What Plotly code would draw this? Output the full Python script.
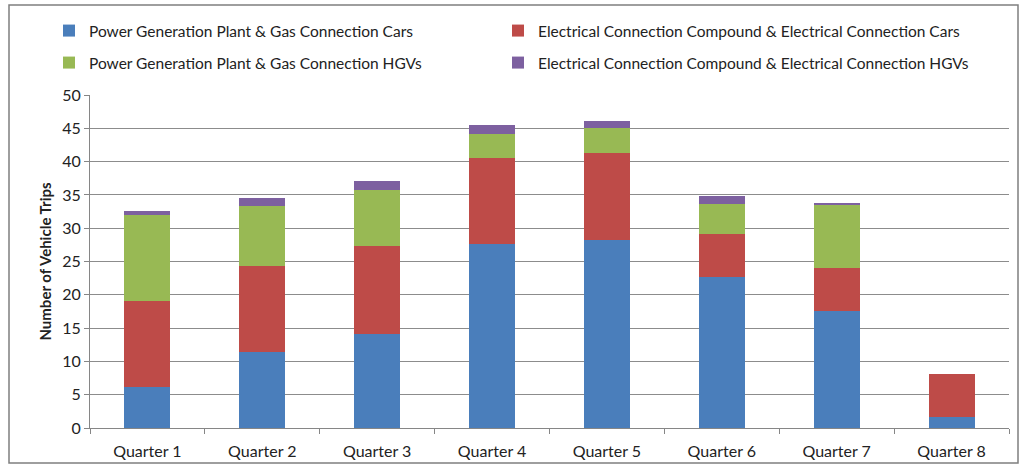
import plotly.graph_objects as go

quarters = ["Quarter 1", "Quarter 2", "Quarter 3", "Quarter 4",
            "Quarter 5", "Quarter 6", "Quarter 7", "Quarter 8"]

pg_cars = [6.1, 11.4, 14.1, 27.6, 28.3, 22.6, 17.5, 1.6]
ec_cars = [12.9, 13.0, 13.2, 13.0, 13.0, 6.6, 6.5, 6.5]
pg_hgvs = [13.0, 8.9, 8.4, 3.5, 3.7, 4.4, 9.5, 0.0]
ec_hgvs = [0.6, 1.2, 1.4, 1.4, 1.1, 1.2, 0.3, 0.0]

# (name, values, colour, legend id)
series = [
    ("Power Generation Plant & Gas Connection Cars", pg_cars, "#4a7ebb", "legend"),
    ("Electrical Connection Compound & Electrical Connection Cars", ec_cars, "#be4b48", "legend2"),
    ("Power Generation Plant & Gas Connection HGVs", pg_hgvs, "#98b954", "legend3"),
    ("Electrical Connection Compound & Electrical Connection HGVs", ec_hgvs, "#7d60a0", "legend4"),
]

W, H = 1023, 466
ML, MR, MT, MB = 90, W - 1009, 95, H - 428

fig = go.Figure()
for name, vals, col, leg in series:
    fig.add_trace(go.Bar(x=quarters, y=vals, name=name, legend=leg, showlegend=True,
                         marker=dict(color=col, line=dict(width=0)),
                         width=0.4))

font = "Lato, 'Open Sans', sans-serif"

def px_x(p):
    return (p - ML) / (W - ML - MR)

def px_y(p):
    return (H - MB - p) / (H - MT - MB)

def legend_at(xp, yp):
    # positioned in container coordinates so the legends never push the margins
    return dict(xref="container", yref="container",
                x=xp / W, y=1 - yp / H, xanchor="left", yanchor="middle",
                orientation="h", font=dict(size=15.5, color="#222222"),
                itemwidth=30, bgcolor="rgba(0,0,0,0)")

fig.update_layout(
    width=W, height=H,
    margin=dict(l=ML, r=MR, t=MT, b=MB, autoexpand=False),
    barmode="stack",
    showlegend=True,
    paper_bgcolor="white", plot_bgcolor="white",
    font=dict(family=font, size=16, color="#222222"),
    legend=legend_at(49, 31),
    legend2=legend_at(498, 31),
    legend3=legend_at(49, 63),
    legend4=legend_at(498, 63),
    xaxis=dict(showgrid=False, showline=True, linecolor="#868686", linewidth=1,
               ticks="outside", tickson="boundaries", ticklen=5, tickcolor="#868686",
               tickfont=dict(size=16), ticklabelstandoff=9, automargin=False),
    yaxis=dict(range=[0, 50], dtick=5, showgrid=True, gridcolor="#8c8c8c", gridwidth=1,
               showline=True, linecolor="#868686", linewidth=1,
               ticks="outside", ticklen=5, tickcolor="#868686",
               tickfont=dict(size=16), automargin=False,
               title=dict(text="<b>Number of Vehicle Trips</b>", font=dict(size=15), standoff=6)),
    shapes=[dict(type="rect", xref="paper", yref="paper",
                 x0=px_x(9), x1=px_x(1018), y0=px_y(463), y1=px_y(5),
                 line=dict(color="#7f7f7f", width=1.5), fillcolor="rgba(0,0,0,0)",
                 layer="below")],
)

fig.write_html("out.html")
